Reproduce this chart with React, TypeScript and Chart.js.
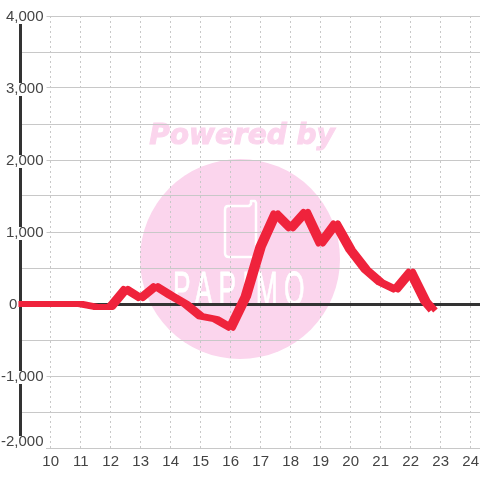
import React, { useEffect, useRef } from "react";
import { Chart, registerables } from "chart.js";

Chart.register(...registerables);

const hours = [9, 10, 10.5, 11, 11.5, 12, 12.5, 13, 13.5, 14, 14.5, 15, 15.5, 16, 16.5, 17, 17.5, 18, 18.5, 19, 19.5, 20, 20.5, 21, 21.5, 22, 22.5, 22.75];
const values = [0, 0, 0, 0, -40, -40, 210, 80, 250, 120, 0, -170, -210, -330, 100, 800, 1260, 1050, 1280, 840, 1120, 750, 480, 300, 200, 450, 30, -90];
const xTicks = [9, 10, 11, 12, 13, 14, 15, 16, 17, 18, 19, 20, 21, 22, 23, 24];
const yMin = -2000;
const yMax = 4000;
const FONT = "'Liberation Sans', Arial, sans-serif";
const LINE_COLOR = "#ef233c";

const watermark = {
  id: "watermark",
  beforeDraw(chart: any) {
    const c = chart.ctx;
    c.save();
    c.fillStyle = "#fff";
    c.fillRect(0, 0, 480, 480);
    c.fillStyle = "#fbd5ed";
    c.beginPath();
    c.arc(240, 259, 100, 0, Math.PI * 2);
    c.fill();
    c.font = "italic bold 28px 'DejaVu Sans', sans-serif";
    c.textAlign = "center";
    c.textBaseline = "alphabetic";
    c.strokeStyle = "#fbd5ed";
    c.lineWidth = 1;
    c.strokeText("Powered by", 242, 144);
    c.fillText("Powered by", 242, 144);
    c.strokeStyle = "#fff";
    c.lineWidth = 2.5;
    c.lineJoin = "round";
    c.beginPath();
    c.moveTo(228, 206);
    c.lineTo(249, 206);
    c.lineTo(251, 204);
    c.lineTo(251, 201);
    c.lineTo(255, 201);
    c.lineTo(256, 203);
    c.lineTo(256, 254);
    c.quadraticCurveTo(256, 257, 253, 257);
    c.lineTo(229, 257);
    c.quadraticCurveTo(225, 257, 225, 253);
    c.lineTo(225, 210);
    c.quadraticCurveTo(225, 206, 228, 206);
    c.stroke();
    c.fillStyle = "#fff";
    c.strokeStyle = "#fff";
    c.lineWidth = 0.5;
    c.font = "30px 'Liberation Sans', sans-serif";
    c.textAlign = "left";
    c.save();
    c.translate(173, 305);
    c.scale(0.88, 1.6);
    c.letterSpacing = "7px";
    c.fillText("PAPIMO", 0, 0);
    c.strokeText("PAPIMO", 0, 0);
    c.restore();
    c.restore();
  },
};

const zeroLine = {
  id: "zeroLine",
  beforeDatasetsDraw(chart: any) {
    const c = chart.ctx;
    const y = Math.round(chart.scales.y.getPixelForValue(0)) + 0.5;
    const bottom = chart.scales.y.getPixelForValue(yMin);
    c.save();
    c.fillStyle = "#fff";
    c.fillRect(0, bottom - 12, 46, 13);
    c.strokeStyle = "#333333";
    c.lineWidth = 3;
    c.beginPath();
    c.moveTo(chart.chartArea.left, y);
    c.lineTo(chart.chartArea.right, y);
    c.stroke();
    c.restore();
  },
  beforeDatasetDraw(chart: any) {
    const c = chart.ctx;
    c.save();
    c.translate(-2.25, 0);
    c.shadowColor = LINE_COLOR;
    c.shadowBlur = 0;
    c.shadowOffsetX = 4.5;
    c.shadowOffsetY = 0;
  },
  afterDatasetDraw(chart: any) {
    chart.ctx.restore();
  },
};

const yLabel = (v: any) => {
  const n = Number(v);
  if (n === 0) return "0      \u200A";
  if (n === yMin) return [n.toLocaleString("en-US"), ""];
  return n % 1000 === 0 ? n.toLocaleString("en-US") : "";
};

export default function App() {
  const ref = useRef<HTMLCanvasElement>(null);
  useEffect(() => {
    document.body.style.margin = "0";
    const chart = new Chart(ref.current as HTMLCanvasElement, {
      type: "line",
      data: {
        datasets: [
          {
            data: hours.map((h, i) => ({ x: h, y: values[i] })),
            borderColor: LINE_COLOR,
            borderWidth: 6,
            borderCapStyle: "butt",
            borderJoinStyle: "round",
            pointRadius: 0,
            tension: 0,
            clip: false,
          },
        ],
      },
      options: {
        responsive: false,
        animation: false,
        layout: { padding: { top: 16 } },
        plugins: { legend: { display: false }, tooltip: { enabled: false } },
        scales: {
          x: {
            type: "linear",
            min: 9,
            max: 24.31,
            afterBuildTicks: (s: any) => {
              s.ticks = xTicks.map((v) => ({ value: v }));
            },
            afterFit: (s: any) => {
              s.height = 32;
              s.paddingLeft = 0;
              s.paddingRight = 0;
            },
            grid: { color: "#c8c8c8", lineWidth: 1, drawTicks: false },
            border: { display: false, dash: [2, 3] },
            ticks: {
              autoSkip: false,
              maxRotation: 0,
              padding: 5,
              color: "#444444",
              font: { family: FONT, size: 15 },
              callback: (v: any) => (v === 9 ? "" : String(v)),
            },
          },
          y: {
            min: yMin,
            max: yMax,
            afterFit: (s: any) => {
              s.width = 20.7;
            },
            grid: { color: "#c8c8c8", lineWidth: 1, drawTicks: false },
            border: { display: true, color: "#333333", width: 3 },
            ticks: {
              z: 1,
              stepSize: 500,
              autoSkip: false,
              mirror: true,
              crossAlign: "far",
              padding: -19.7,
              labelOffset: 1,
              color: "#444444",
              font: (ctx: any) => ({
                family: FONT,
                size: 15,
                lineHeight: ctx.tick && ctx.tick.value === yMin ? 14 / 15 : 1.2,
              }),
              showLabelBackdrop: true,
              backdropColor: (ctx: any) =>
                ctx.tick && ctx.tick.value % 1000 === 0 && ctx.tick.value !== 0 && ctx.tick.value !== yMin
                  ? "#ffffff"
                  : "transparent",
              backdropPadding: { top: -3, bottom: -2, left: 3, right: 3 },
              callback: yLabel,
            },
          },
        },
      },
      plugins: [watermark, zeroLine],
    } as any);
    return () => chart.destroy();
  }, []);
  return <canvas ref={ref} width={480} height={480} style={{ display: "block" }} />;
}
